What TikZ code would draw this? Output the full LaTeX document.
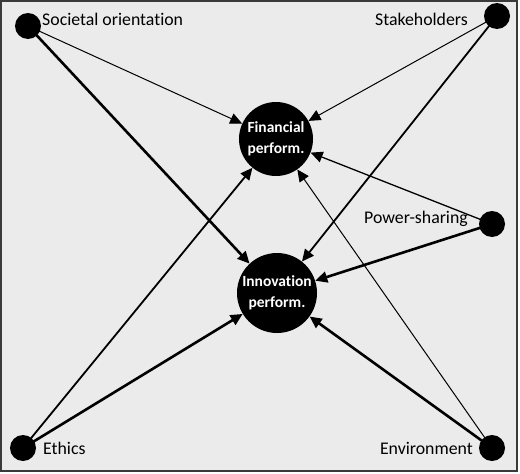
\documentclass[tikz,border=0pt]{standalone}
\usepackage{fontspec}
\setmainfont{Carlito}[Ligatures=NoCommon]
\usetikzlibrary{arrows.meta}
\definecolor{bg}{HTML}{EBEBEB}
\definecolor{frame}{HTML}{3A3A3A}
\begin{document}
\begin{tikzpicture}[x=1pt,y=-1pt,
  dot/.style={circle,fill=black,inner sep=0pt,minimum size=26pt},
  bigc/.style={circle,fill=black,inner sep=0pt,text=white,font=\bfseries\fontsize{15.5}{21}\selectfont,align=center},
  lbl/.style={font=\fontsize{17.8}{20}\selectfont,inner sep=0pt},
  conn/.style={-{Triangle[length=12pt,width=11pt]},draw=black},
  w1/.style={line width=1pt},
  w2/.style={line width=1.8pt},
  w3/.style={line width=2.6pt}]
\useasboundingbox (0,0) rectangle (520,474);
\draw[fill=bg,draw=frame,line width=2pt] (1,1) rectangle (517,471);
% nodes
\node[dot] (soc) at (28,26) {};
\node[dot] (sta) at (497,16) {};
\node[dot] (pow) at (492,224) {};
\node[dot] (eth) at (23,448) {};
\node[dot] (env) at (492,448) {};
\node[bigc,minimum size=74pt] (fin) at (276,139) {Financial\\perform.};
\node[bigc,minimum size=80pt] (inn) at (277,293) {Innovation\\perform.};
% labels
\node[lbl,anchor=west] (lsoc) at (42,19) {Societal orientation};
\node[lbl,anchor=east] (lsta) at (468,19) {Stakeholders};
\node[lbl,anchor=east] (lpow) at (468,219) {Power-sharing};
\node[lbl,anchor=west] (leth) at (43,448) {Ethics};
\node[lbl,anchor=east] (lenv) at (473,448) {Environment};
% connectors
\draw[conn,w1] (soc.center) -- (fin);
\draw[conn,w3] (soc.center) -- (inn);
\draw[conn,w1] (sta.center) -- (fin);
\draw[conn,w2] (sta.center) -- (inn);
\draw[conn,line width=1.3pt] (pow.center) -- (fin);
\draw[conn,w3] (pow.center) -- (inn);
\draw[conn,w2] (eth.center) -- (fin);
\draw[conn,w3] (eth.center) -- (inn);
\draw[conn,w1] (env.center) -- (fin);
\draw[conn,w3] (env.center) -- (inn);
\end{tikzpicture}
\end{document}
